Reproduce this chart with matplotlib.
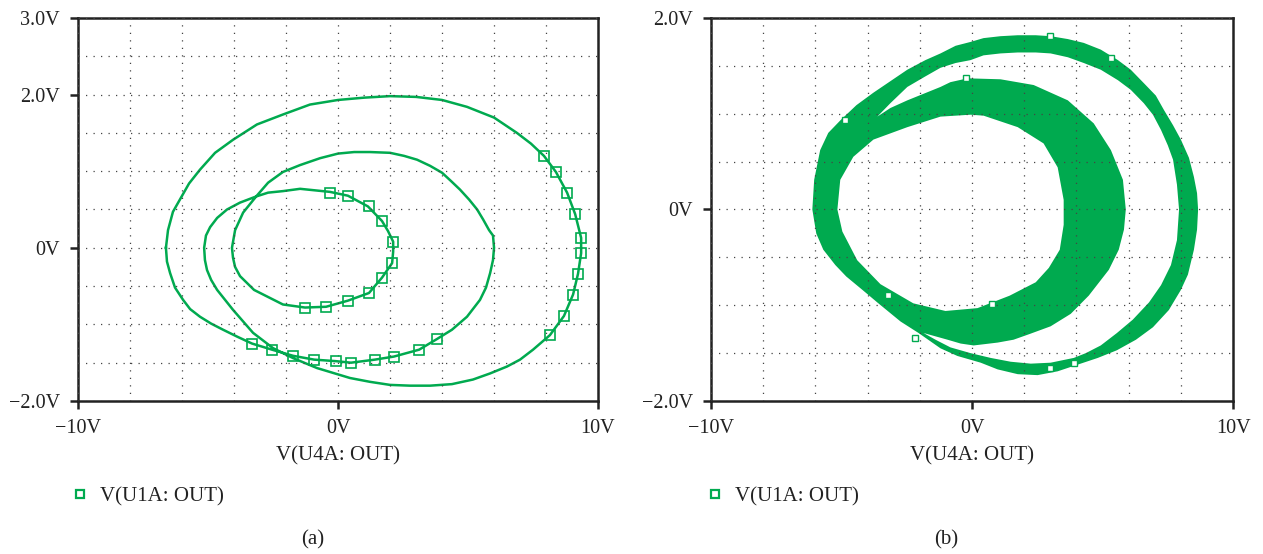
import numpy as np
import matplotlib
matplotlib.use('Agg')
from matplotlib import pyplot as plt
from matplotlib.ticker import MultipleLocator
from matplotlib.lines import Line2D

plt.rcParams['font.family'] = ['Liberation Serif', 'DejaVu Serif']

green = '#00AA4F'

# (a) period-3 orbit, V(U4A: OUT) vs V(U1A: OUT), one closed trace
a_x = [-6.62, -6.58, -6.46, -6.27, -5.96, -5.69, -5.31, -4.88, -4.42, -3.88,
       -3.31, -2.54, -1.73, -0.92, -0.08, 0.50, 1.42, 2.15, 3.12, 3.81,
       4.38, 4.96, 5.46, 5.69, 5.85, 5.96, 6.00, 5.96, 5.81, 5.58,
       5.35, 5.04, 4.69, 4.35, 4.00, 3.54, 3.04, 2.54, 2.00, 1.23,
       0.62, 0.00, -0.69, -1.46, -2.12, -2.69, -3.15, -3.65, -3.96, -4.08,
       -4.04, -3.96, -3.77, -3.50, -3.23, -2.88, -2.12, -1.27, -0.46, 0.38,
       1.19, 1.69, 2.08, 2.12, 2.12, 1.92, 1.69, 1.15, 0.38, -0.31,
       -1.46, -2.12, -2.69, -3.15, -3.77, -4.27, -4.65, -4.92, -5.08, -5.15,
       -5.12, -5.04, -4.88, -4.65, -4.04, -3.27, -2.50, -1.73, -0.81, 0.46,
       1.23, 2.00, 2.77, 3.54, 4.38, 5.19, 5.85, 6.50, 7.00, 7.50,
       8.15, 8.69, 9.04, 9.23, 9.35, 9.35, 9.12, 8.81, 8.38, 7.92,
       7.42, 6.88, 6.00, 4.96, 4.00, 3.00, 2.00, 1.00, 0.00, -1.08,
       -2.12, -3.12, -4.04, -4.73, -5.31, -5.73, -6.08, -6.35, -6.54, -6.62]
a_y = [0.00, -0.18, -0.33, -0.52, -0.68, -0.80, -0.90, -0.99, -1.07, -1.16,
       -1.25, -1.33, -1.41, -1.46, -1.48, -1.50, -1.46, -1.42, -1.33, -1.19,
       -1.07, -0.90, -0.68, -0.52, -0.33, -0.16, 0.00, 0.16, 0.23, 0.37,
       0.50, 0.63, 0.76, 0.87, 0.98, 1.07, 1.15, 1.20, 1.24, 1.25,
       1.25, 1.23, 1.17, 1.08, 0.99, 0.85, 0.67, 0.46, 0.23, 0.00,
       -0.13, -0.25, -0.37, -0.46, -0.55, -0.61, -0.74, -0.78, -0.77, -0.69,
       -0.59, -0.39, -0.20, -0.05, 0.08, 0.22, 0.35, 0.54, 0.68, 0.73,
       0.77, 0.74, 0.72, 0.67, 0.59, 0.50, 0.39, 0.27, 0.16, 0.00,
       -0.16, -0.29, -0.42, -0.55, -0.81, -1.11, -1.31, -1.44, -1.57, -1.70,
       -1.75, -1.79, -1.80, -1.80, -1.78, -1.72, -1.64, -1.55, -1.46, -1.33,
       -1.14, -0.89, -0.61, -0.34, -0.07, 0.13, 0.44, 0.72, 0.99, 1.20,
       1.36, 1.50, 1.70, 1.84, 1.93, 1.97, 1.98, 1.96, 1.93, 1.87,
       1.74, 1.61, 1.41, 1.24, 1.02, 0.84, 0.63, 0.47, 0.23, 0.00]

# square markers of the trace in (a)
a_mx = [-0.31, 0.38, 1.19, 1.69, 2.12, 2.08, 1.69, 1.19, 0.38, -0.46, -1.27,
        -3.31, -2.54, -1.73, -0.92, -0.08, 0.50, 1.42, 2.15, 3.12, 3.81,
        7.92, 8.38, 8.81, 9.12, 9.35, 9.35, 9.23, 9.04, 8.69, 8.15]
a_my = [0.72, 0.67, 0.54, 0.35, 0.08, -0.20, -0.39, -0.59, -0.69, -0.77, -0.78,
        -1.25, -1.33, -1.41, -1.46, -1.48, -1.50, -1.46, -1.42, -1.33, -1.19,
        1.20, 0.99, 0.72, 0.44, 0.13, -0.07, -0.34, -0.61, -0.89, -1.14]

# (b) dense band: outer envelope of the traces
b_out_x = [-6.12, -6.05, -5.82, -5.51, -5.05, -4.43, -3.78, -3.13, -2.48, -1.79, -1.21, -0.63, -0.06, 0.44,
           1.09, 1.75, 2.44, 3.01, 3.67, 4.28, 4.93, 5.59, 6.08, 6.58, 7.04, 7.35, 7.70, 8.00, 8.31, 8.50,
           8.62, 8.66, 8.62, 8.50, 8.27, 8.00, 7.54, 6.93, 6.28, 5.55, 4.82, 4.05, 3.28, 2.51, 1.75, 0.98,
           0.33, -0.56, -1.21, -2.05, -2.74, -3.59, -4.20, -4.82, -5.24, -5.70, -5.97]
b_out_y = [0.00, 0.31, 0.62, 0.80, 0.93, 1.09, 1.22, 1.34, 1.46, 1.56, 1.63, 1.71, 1.75, 1.79,
           1.81, 1.82, 1.82, 1.81, 1.78, 1.74, 1.67, 1.56, 1.46, 1.32, 1.19, 1.04, 0.88, 0.73, 0.54, 0.34,
           0.17, 0.00, -0.21, -0.42, -0.68, -0.84, -1.05, -1.23, -1.36, -1.47, -1.55, -1.62, -1.69, -1.73,
           -1.72, -1.67, -1.60, -1.53, -1.45, -1.29, -1.17, -0.98, -0.84, -0.70, -0.58, -0.42, -0.25]

# (b) empty gap between the large loop and the small loop
b_gap_x = [-3.63, -3.13, -2.48, -1.79, -1.21, -0.63, -0.06, 0.44, 1.09, 1.75, 2.44, 3.01, 3.67, 4.28, 4.93,
           5.59, 6.08, 6.58, 6.93, 7.24, 7.50, 7.70, 7.85, 7.93, 7.85, 7.62, 7.24, 6.78, 6.16, 5.55, 4.93,
           4.36, 3.90, 3.01, 2.25, 1.48, 0.71, -0.06, -0.83, -1.40, -1.86,
           -0.94, -0.44, 0.06, 0.98, 1.59, 2.21, 3.01, 3.78, 4.47, 5.24, 5.62, 5.82, 5.89, 5.78, 5.32, 4.66,
           3.67, 2.36, 1.09, -0.17, -0.83, -1.21, -2.48, -3.13]
b_gap_y = [0.97, 1.11, 1.28, 1.39, 1.48, 1.53, 1.56, 1.61, 1.63, 1.64, 1.64, 1.63, 1.59, 1.53, 1.46,
           1.35, 1.25, 1.11, 0.99, 0.83, 0.67, 0.52, 0.26, 0.00, -0.32, -0.58, -0.79, -0.97, -1.15, -1.29, -1.42,
           -1.50, -1.55, -1.60, -1.61, -1.59, -1.55, -1.50, -1.44, -1.36, -1.29,
           -1.36, -1.40, -1.42, -1.39, -1.36, -1.30, -1.22, -1.09, -0.90, -0.63, -0.42, -0.21, 0.00, 0.31, 0.62, 0.90,
           1.14, 1.30, 1.36, 1.37, 1.33, 1.28, 1.14, 1.06]

# (b) central hole
b_hole_x = [-5.16, -5.05, -4.55, -3.78, -2.48, -1.21, -0.06, 0.44, 1.75, 2.74, 3.28, 3.51, 3.51, 3.36, 2.94,
            2.44, 1.44, 0.21, -1.02, -2.25, -3.51, -4.40, -4.97]
b_hole_y = [0.00, 0.31, 0.55, 0.73, 0.86, 0.97, 0.99, 0.98, 0.86, 0.69, 0.44, 0.10, -0.16, -0.42, -0.61,
            -0.76, -0.90, -1.03, -1.06, -0.98, -0.78, -0.53, -0.23]

# square markers in (b)
b_mx = [-4.86, -0.25, 2.98, 5.32, -3.24, -2.17, 0.75, 2.98, 3.90]
b_my = [0.93, 1.37, 1.81, 1.58, -0.89, -1.34, -0.99, -1.66, -1.60]

xticks = [-10, 0, 10]
xticklabels = ['\u221210V', '0V', '10V']
a_yticks = [-2, 0, 2, 3]
a_yticklabels = ['\u22122.0V', '0V', '2.0V', '3.0V']
b_yticks = [-2, 0, 2]
b_yticklabels = ['\u22122.0V', '0V', '2.0V']

fig = plt.figure(figsize=(12.63, 5.54), dpi=100)
ax1 = fig.add_axes([0.0618, 0.2762, 0.4117, 0.6913])
ax2 = fig.add_axes([0.5630, 0.2762, 0.4133, 0.6913])


def style(ax, ylim, yticks, yticklabels):
    ax.set_xlim(-10, 10)
    ax.set_ylim(*ylim)
    ax.set_xticks(xticks)
    ax.set_xticklabels(xticklabels)
    ax.set_yticks(yticks)
    ax.set_yticklabels(yticklabels)
    ax.xaxis.set_minor_locator(MultipleLocator(2))
    ax.yaxis.set_minor_locator(MultipleLocator(0.5))
    ax.tick_params(which='major', direction='out', length=6, width=1.8, labelsize=14.5,
                   colors='#222222', pad=7)
    ax.tick_params(which='minor', length=0)
    ax.set_axisbelow(False)
    ax.grid(which='both', color='#444444', linestyle=(0, (1, 5)), linewidth=0.9)
    for s in ax.spines.values():
        s.set_linewidth(1.8)
        s.set_color('#222222')
    ax.set_xlabel('V(U4A: OUT)', fontsize=15, color='#222222', labelpad=6)


style(ax1, (-2, 3), a_yticks, a_yticklabels)
style(ax2, (-2, 2), b_yticks, b_yticklabels)

ax1.plot(a_x, a_y, color=green, linewidth=1.8, solid_joinstyle='round', zorder=2)
ax1.plot(a_mx, a_my, linestyle='none', marker='s', markersize=6.5, markerfacecolor='none',
         markeredgecolor=green, markeredgewidth=1.2, zorder=3)

ax2.fill(b_out_x, b_out_y, color=green, linewidth=0, zorder=1)
ax2.fill(b_gap_x, b_gap_y, color='white', linewidth=0, zorder=1.1)
ax2.fill(b_hole_x, b_hole_y, color='white', linewidth=0, zorder=1.1)
ax2.plot(b_mx, b_my, linestyle='none', marker='s', markersize=5, markerfacecolor='white',
         markeredgecolor=green, markeredgewidth=1.0, zorder=3)

handle = Line2D([], [], linestyle='none', marker='s', markersize=6, markerfacecolor='none',
                markeredgecolor=green, markeredgewidth=1.6)
for ax, x0 in [(ax1, 70 / 1263), (ax2, 705 / 1263)]:
    ax.legend([handle], ['V(U1A: OUT)'], loc='center left', bbox_to_anchor=(x0, 1 - 497 / 554),
              bbox_transform=fig.transFigure, frameon=False, borderpad=0, borderaxespad=0,
              handlelength=1.0, handletextpad=0.45, prop={'size': 15}, labelcolor='#222222')

fig.text(313 / 1263, 1 - 540 / 554, '(a)', ha='center', va='center', fontsize=15, color='#222222')
fig.text(946 / 1263, 1 - 540 / 554, '(b)', ha='center', va='center', fontsize=15, color='#222222')

fig.savefig('out.png', dpi=100)
